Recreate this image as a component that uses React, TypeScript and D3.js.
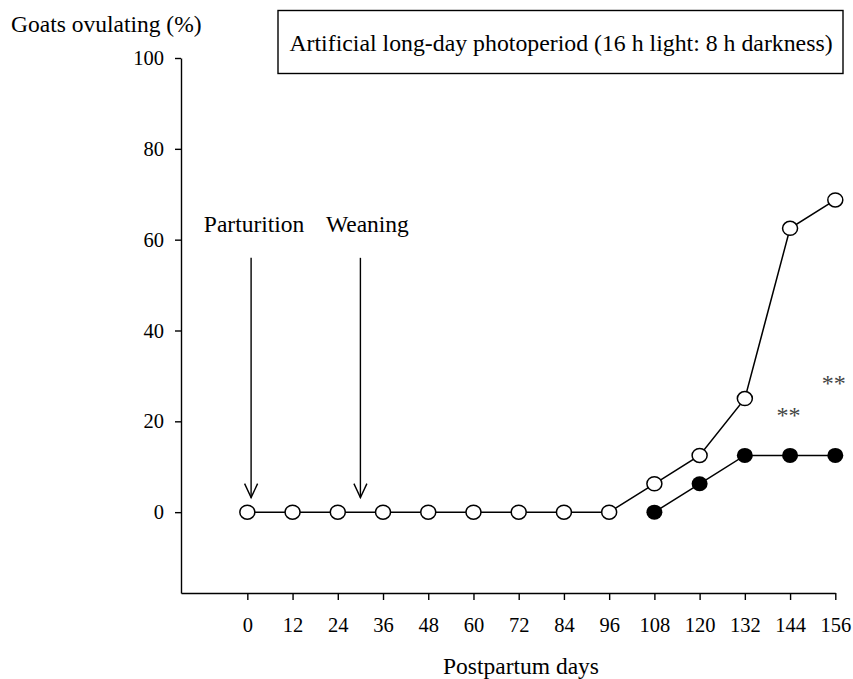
import React, { useEffect, useRef } from "react";
import * as d3 from "d3";

// postpartum days sampled
const days = [0, 12, 24, 36, 48, 60, 72, 84, 96, 108, 120, 132, 144, 156];
// goats ovulating (%) - open circles
const openSeries = [0, 0, 0, 0, 0, 0, 0, 0, 0, 6.25, 12.5, 25, 62.5, 68.75];
// goats ovulating (%) - filled circles (starts at day 108)
const filledSeries = [null, null, null, null, null, null, null, null, null, 0, 6.25, 12.5, 12.5, 12.5];
const yTicks = [0, 20, 40, 60, 80, 100];
const events = [
  { label: "Parturition", day: 1 },
  { label: "Weaning", day: 30 },
];
const stars = [
  { day: 144, value: 21.5 },
  { day: 156, value: 28.5 },
];
const boxText = "Artificial long-day photoperiod (16 h light: 8 h darkness)";

const FONT = "'Liberation Serif', 'Times New Roman', serif";

export default function App() {
  const ref = useRef<SVGSVGElement>(null);

  useEffect(() => {
    document.body.style.margin = "0";
    const svg = d3.select(ref.current);
    svg.selectAll("*").remove();

    const x = d3.scaleLinear().domain([-17.6, 156]).range([181, 835.3]);
    const y = d3.scaleLinear().domain([-17.8, 100]).range([593, 58]);

    // axes
    const yAxis = d3
      .axisLeft(y)
      .tickValues(yTicks)
      .tickSize(6)
      .tickSizeOuter(0)
      .tickPadding(11);
    const gy = svg.append("g").attr("transform", "translate(181,0)").call(yAxis);

    const xAxis = d3
      .axisBottom(x)
      .tickValues(days)
      .tickSize(7)
      .tickSizeOuter(0)
      .tickPadding(17);
    const gx = svg.append("g").attr("transform", "translate(0,593)").call(xAxis);

    [gx, gy].forEach(g => {
      g.selectAll("path, line").attr("stroke", "#000").attr("stroke-width", 1.4);
      g.selectAll("text")
        .attr("fill", "#000")
        .style("font-family", FONT)
        .style("font-size", "20.5px");
    });

    // labels
    svg
      .append("text")
      .attr("x", 11)
      .attr("y", 32)
      .style("font-family", FONT)
      .style("font-size", "23.5px")
      .text("Goats ovulating (%)");

    svg
      .append("text")
      .attr("x", 521)
      .attr("y", 674)
      .attr("text-anchor", "middle")
      .style("font-family", FONT)
      .style("font-size", "23.5px")
      .text("Postpartum days");

    // condition box
    svg
      .append("rect")
      .attr("x", 278)
      .attr("y", 10.5)
      .attr("width", 565)
      .attr("height", 63)
      .attr("fill", "#fff")
      .attr("stroke", "#000")
      .attr("stroke-width", 1.4);
    svg
      .append("text")
      .attr("x", 561)
      .attr("y", 51)
      .attr("text-anchor", "middle")
      .style("font-family", FONT)
      .style("font-size", "23.8px")
      .text(boxText);

    // event arrows
    const ev = svg.append("g");
    events.forEach((e, i) => {
      const ex = x(e.day);
      const top = y(56);
      const tip = y(3.2);
      ev.append("line")
        .attr("x1", ex)
        .attr("x2", ex)
        .attr("y1", top)
        .attr("y2", tip)
        .attr("stroke", "#000")
        .attr("stroke-width", 1.4);
      ev.append("path")
        .attr("d", `M${ex - 6.5},${tip - 14}L${ex},${tip}L${ex + 6.5},${tip - 14}`)
        .attr("fill", "none")
        .attr("stroke", "#000")
        .attr("stroke-width", 1.4);
      ev.append("text")
        .attr("x", ex + (i === 0 ? 3 : 7))
        .attr("y", 232)
        .attr("text-anchor", "middle")
        .style("font-family", FONT)
        .style("font-size", "23.5px")
        .text(e.label);
    });

    // lines
    const openPts = days.map((d, i) => [d, openSeries[i]] as [number, number]);
    const filledPts = days
      .map((d, i) => [d, filledSeries[i]] as [number, number | null])
      .filter(p => p[1] !== null) as [number, number][];

    const line = d3
      .line<[number, number]>()
      .x(d => x(d[0]))
      .y(d => y(d[1]));

    svg
      .append("path")
      .attr("d", line(filledPts))
      .attr("fill", "none")
      .attr("stroke", "#000")
      .attr("stroke-width", 1.5);
    svg
      .append("path")
      .attr("d", line(openPts))
      .attr("fill", "none")
      .attr("stroke", "#000")
      .attr("stroke-width", 1.5);

    svg
      .append("g")
      .selectAll("ellipse")
      .data(filledPts)
      .enter()
      .append("ellipse")
      .attr("cx", d => x(d[0]))
      .attr("cy", d => y(d[1]))
      .attr("rx", 8)
      .attr("ry", 7.5)
      .attr("fill", "#000");

    svg
      .append("g")
      .selectAll("ellipse")
      .data(openPts)
      .enter()
      .append("ellipse")
      .attr("cx", d => x(d[0]))
      .attr("cy", d => y(d[1]))
      .attr("rx", 7.5)
      .attr("ry", 7)
      .attr("fill", "#fff")
      .attr("stroke", "#000")
      .attr("stroke-width", 1.5);

    // significance marks
    svg
      .append("g")
      .selectAll("text")
      .data(stars)
      .enter()
      .append("text")
      .attr("x", d => x(d.day) - 1.5)
      .attr("y", d => y(d.value) + 8)
      .attr("text-anchor", "middle")
      .attr("fill", "#444")
      .style("font-family", FONT)
      .style("font-size", "24px")
      .text("**");
  }, []);

  return <svg ref={ref} width={853} height={679} style={{ display: "block", background: "#fff" }} />;
}
